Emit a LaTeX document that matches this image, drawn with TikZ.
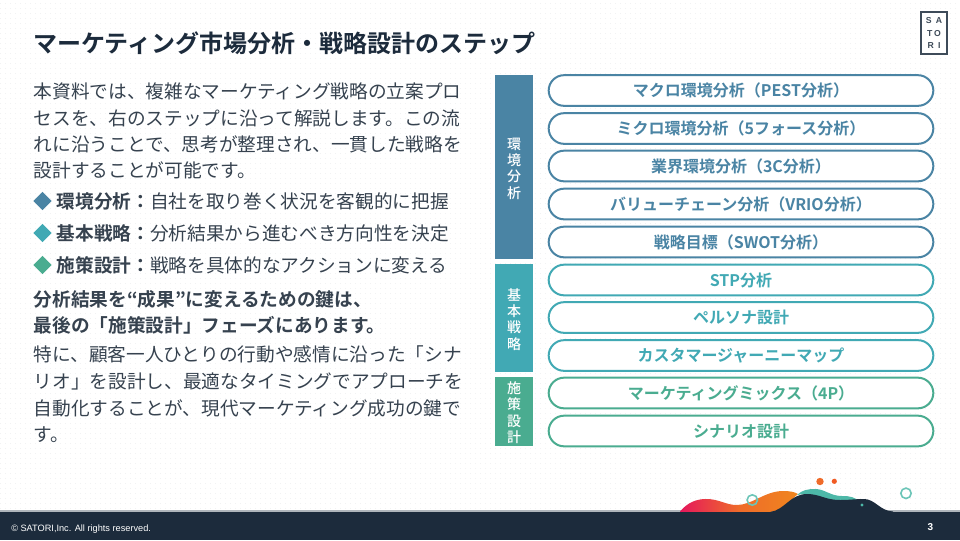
\documentclass[tikz,border=0pt]{standalone}
\usepackage{fontspec}
\setmainfont{Noto Sans CJK JP}[BoldFont={Noto Sans CJK JP Bold}]
\newfontfamily\latinfont{Liberation Sans}
\newfontfamily\medfont{Noto Sans CJK JP Medium}
\usetikzlibrary{shapes.geometric}
\definecolor{navy}{HTML}{1C2B3C}
\definecolor{inkc}{HTML}{36424F}
\definecolor{blueB}{HTML}{4A84A4}
\definecolor{tealB}{HTML}{41A9B4}
\definecolor{greenB}{HTML}{4AAC90}
\definecolor{ringc}{HTML}{6CC5B8}
\definecolor{wavet}{HTML}{4DB8A8}
\definecolor{dotc}{HTML}{F1F2F3}
\definecolor{waveA}{HTML}{E5175C}
\definecolor{waveB}{HTML}{EF6B2A}
\definecolor{waveC}{HTML}{F0861E}
\tikzset{
  px/.style={x=0.75pt,y=-0.75pt},
  body/.style={anchor=base west,inner sep=0pt,text=inkc,font=\fontsize{14}{16}\selectfont},
  bodyb/.style={body,font=\fontsize{14}{16}\selectfont\bfseries},
  titletext/.style={anchor=base west,inner sep=0pt,text=navy,font=\fontsize{18}{21}\selectfont\bfseries},
  pill/.style={draw=#1,line width=1.5pt,fill=white,rounded corners=11.6pt,minimum width=288.5pt,minimum height=23pt,inner sep=0pt,text=#1,font=\fontsize{12}{14}\selectfont\bfseries},
  sidebar/.style={fill=#1,minimum width=28.5pt,inner sep=0pt,text=white,align=center,font=\medfont\fontsize{10.5}{12.3}\selectfont},
  bullet/.style={diamond,aspect=1,fill=#1,minimum size=14pt,inner sep=0pt},
}
\begin{document}
\begin{tikzpicture}[px]
\useasboundingbox (0,0) rectangle (960,540);
\fill[white] (0,0) rectangle (960,540);
\foreach \yy in {3,8,...,508}
  \draw[dotc,line width=0.75pt,dash pattern=on 0.75pt off 3pt] (0,\yy) -- (960,\yy);

% title and logo
\node[titletext] (title) at (33,52) {マーケティング市場分析・戦略設計のステップ};
\node[draw=navy!85,line width=0.8pt,fill=white,minimum width=19.5pt,minimum height=31.5pt,inner sep=0pt] (logo) at (934,33) {};
\foreach \nm/\tx/\yy in {la/{S\hspace{3.2pt}A}/20.5,lb/{T\hspace{1.2pt}O}/33.5,lc/{R\hspace{3.2pt}I}/46}
  \node[inner sep=0pt,text=navy!85,font=\latinfont\fontsize{6.5}{7}\selectfont\bfseries] (\nm) at (934,\yy) {\tx};

% left text
\node[body] (p1) at (33.5,98) {本資料では、複雑なマーケティング戦略の立案プロ};
\node[body] (p2) at (33.5,125) {セスを、右のステップに沿って解説します。この流};
\node[body] (p3) at (33.5,151) {れに沿うことで、思考が整理され、一貫した戦略を};
\node[body] (p4) at (33.5,177) {設計することが可能です。};

\node[bullet=blueB] (d1) at (42.5,201) {};
\node[bullet=tealB] (d2) at (42.5,233) {};
\node[bullet=greenB] (d3) at (42.5,265) {};
\node[body] (b1) at (56.5,208) {\textbf{環境分析：}自社を取り巻く状況を客観的に把握};
\node[body] (b2) at (56.5,240) {\textbf{基本戦略：}分析結果から進むべき方向性を決定};
\node[body] (b3) at (56.5,272) {\textbf{施策設計：}戦略を具体的なアクションに変える};

\node[bodyb] (k1) at (33.5,306) {分析結果を“成果”に変えるための鍵は、};
\node[bodyb] (k2) at (33.5,332) {最後の「施策設計」フェーズにあります。};

\node[body] (q1) at (33.5,361.5) {特に、顧客一人ひとりの行動や感情に沿った「シナ};
\node[body] (q2) at (33.5,388) {リオ」を設計し、最適なタイミングでアプローチを};
\node[body] (q3) at (33.5,415) {自動化することが、現代マーケティング成功の鍵で};
\node[body] (q4) at (33.5,441) {す。};

% side bars
\node[sidebar=blueB,minimum height=138pt] (s1) at (514,167) {\\[-1.5pt]環\\境\\分\\析};
\node[sidebar=tealB,minimum height=81pt] (s2) at (514,318) {\\[-1.5pt]基\\本\\戦\\略};
\node[sidebar=greenB,minimum height=51.75pt] (s3) at (514,411.5) {\\[-1.5pt]施\\策\\設\\計};

% pills
\node[pill=blueB] (a1) at (741,90.5) {マクロ環境分析（PEST分析）};
\node[pill=blueB] (a2) at (741,128.5) {ミクロ環境分析（5フォース分析）};
\node[pill=blueB] (a3) at (741,166) {業界環境分析（3C分析）};
\node[pill=blueB] (a4) at (741,204) {バリューチェーン分析（VRIO分析）};
\node[pill=blueB] (a5) at (741,242) {戦略目標（SWOT分析）};
\node[pill=tealB] (b6) at (741,280) {STP分析};
\node[pill=tealB] (b7) at (741,317.5) {ペルソナ設計};
\node[pill=tealB] (b8) at (741,355.5) {カスタマージャーニーマップ};
\node[pill=greenB] (c1) at (741,393) {マーケティングミックス（4P）};
\node[pill=greenB] (c2) at (741,431) {シナリオ設計};

% footer waves
\fill[navy!35] (0,510.4) rectangle (960,511.6);
\shade[left color=waveA,right color=waveC,middle color=waveB]
  (680,513) -- (680,511.5) .. controls (688,502) and (697,499) .. (706,499)
  .. controls (720,499) and (725,505) .. (737,505)
  .. controls (752,505) and (765,491) .. (783,491)
  .. controls (790,491) and (795,492) .. (798,494)
  .. controls (790,500) and (785,511) .. (772,511.5) -- (772,513) -- cycle;
\fill[wavet]
  (797,495) .. controls (802,490) and (808,489) .. (815,489)
  .. controls (825,489) and (830,496) .. (842,496)
  .. controls (850,496) and (855,497) .. (860,502)
  -- (835,503) .. controls (820,498) and (808,492) .. (797,495) -- cycle;
\fill[navy]
  (770,513) -- (770,512) .. controls (785,510) and (790,494) .. (807,494)
  .. controls (820,494) and (825,500) .. (840,500)
  .. controls (850,500) and (855,499) .. (864,499)
  .. controls (875,499) and (880,511) .. (893,511.5) -- (893,513) -- cycle;
\fill[navy] (913,513) arc[start angle=180,end angle=0,x radius=12,y radius=12] -- cycle;
\fill[navy] (0,511.5) rectangle (960,540);
\draw[ringc,line width=1.2pt] (752.3,500) circle[radius=5.2];
\draw[ringc,line width=1.2pt] (906,493.3) circle[radius=5.2];
\fill[waveB] (820,481.5) circle[radius=3.7];
\fill[waveB!85!red] (834.3,481.3) circle[radius=2.6];
\fill[wavet] (862,505) circle[radius=1.7];

% footer text
\node[anchor=base west,inner sep=0pt,text=white,font=\latinfont\fontsize{6.9}{8}\selectfont] (copy) at (11,531.2) {© SATORI,Inc. All rights reserved.};
\node[inner sep=0pt,text=white,font=\latinfont\fontsize{7.5}{8}\selectfont\bfseries] (page) at (930.5,527) {3};
\end{tikzpicture}
\end{document}
